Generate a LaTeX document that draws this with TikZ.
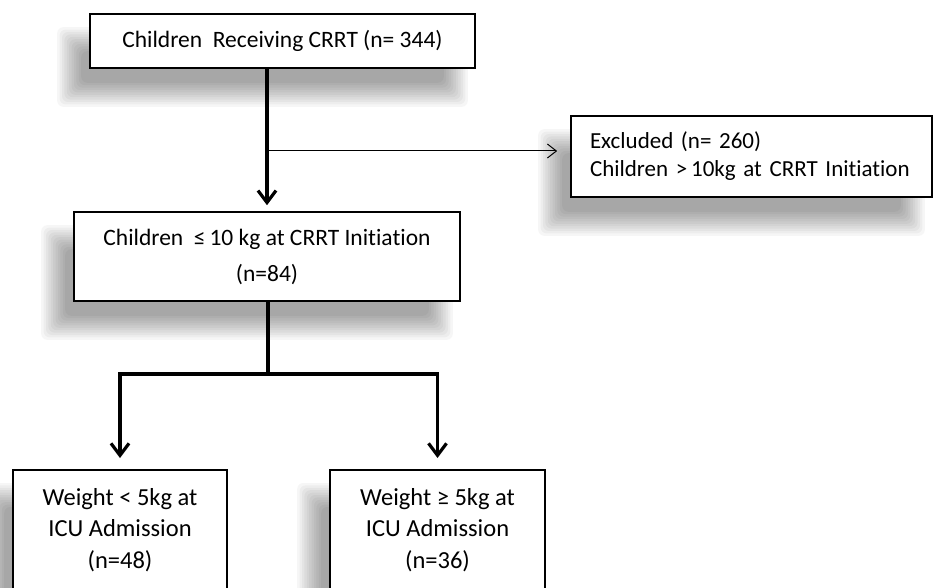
\documentclass[tikz,border=0pt]{standalone}
\usepackage{fontspec}
\setmainfont{Carlito}[Ligatures=NoCommon]
\usetikzlibrary{arrows.meta,calc,backgrounds}
\newcommand\softshadow[1]{%
  \foreach \e in {12,9.6,...,-12.1}{%
    \fill[black, opacity=0.034, rounded corners=6pt]
      ($(#1.north west)+(-20-\e,26-\e)$) rectangle ($(#1.south east)+(-20+\e,26+\e)$);
  }}
\begin{document}
\begin{tikzpicture}[x=1pt,y=-1pt,
  box/.style={draw=black, line width=1.6pt, fill=white, inner sep=0pt,
    align=center, font=\fontsize{23.5}{36}\selectfont},
  smallbox/.style={box, font=\fontsize{24.5}{31.5}\selectfont},
  exbox/.style={box, align=left, font=\fontsize{23}{28}\selectfont},
  thickarrow/.style={line width=3.2pt, -{Straight Barb[length=12pt,width=18pt]}},
  thickline/.style={line width=3.2pt},
  thinarrow/.style={line width=1pt, -{Straight Barb[length=9pt,width=14pt]}}]
\useasboundingbox (0,0) rectangle (937,588);
\clip (0,0) rectangle (937,588);

\node[box, minimum width=385, minimum height=54] (n1) at (282.5,41)
  {Children\ \ Receiving CRRT (n=\ 344)};
\node[exbox, minimum width=361, minimum height=81, text width=323] (ex) at (751.5,156.5)
  {\mbox{Excluded (n=\ 260)}\\\mbox{Children >\,10kg at CRRT Initiation}};
\node[box, minimum width=386, minimum height=89] (n2) at (267,256.5)
  {Children\ \ ≤\,10 kg at CRRT Initiation\\(n=84)};
\node[smallbox, minimum width=214, minimum height=158, anchor=north] (b3) at (120,469)
  {Weight < 5kg at\\ICU Admission\\(n=48)\\\strut};
\node[smallbox, minimum width=215, minimum height=158, anchor=north] (b4) at (437.5,469)
  {Weight ≥ 5kg at\\ICU Admission\\(n=36)\\\strut};

\begin{scope}[on background layer]
  \fill[white] (0,0) rectangle (937,588);
  \softshadow{n1}
  \softshadow{ex}
  \softshadow{n2}
  \softshadow{b3}
  \softshadow{b4}
\end{scope}

\coordinate (j1) at (268,151);
\coordinate (j2) at (268,374);

\draw[thickarrow, shorten >=6pt] (n1.south -| n2.north) -- (n2.north);
\draw[thinarrow, shorten >=13pt] (j1) -- (j1 -| ex.west);
\draw[thickline] (n2.south -| j2) -- (j2);
\draw[thickline, line cap=rect] (j2 -| b3.north) -- (j2 -| b4.north);
\draw[thickarrow, shorten >=11pt] (j2 -| b3.north) -- (b3.north);
\draw[thickarrow, shorten >=11pt] (j2 -| b4.north) -- (b4.north);
\end{tikzpicture}
\end{document}
